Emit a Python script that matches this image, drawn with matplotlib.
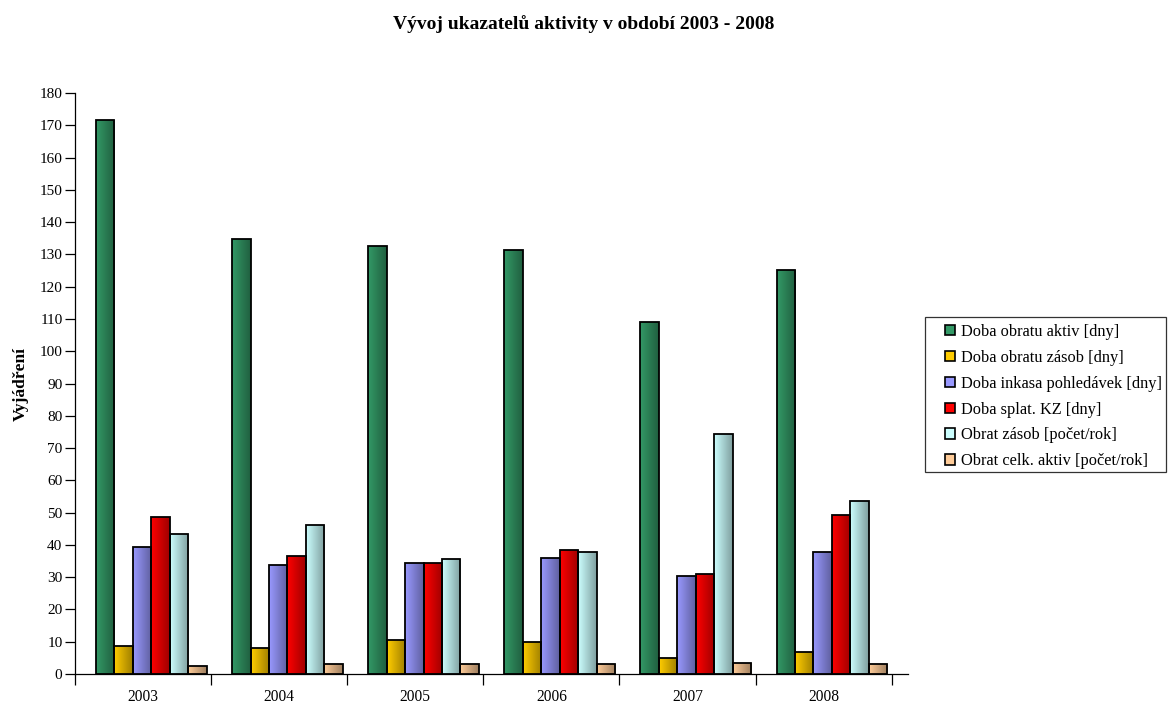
import numpy as np
import matplotlib.pyplot as plt
from matplotlib.colors import LinearSegmentedColormap, to_rgb
from matplotlib.patches import Patch, Rectangle

plt.rcParams['font.family'] = ['Liberation Serif', 'DejaVu Serif']

years = ['2003', '2004', '2005', '2006', '2007', '2008']

series_names = [
    'Doba obratu aktiv [dny]',
    'Doba obratu zásob [dny]',
    'Doba inkasa pohledávek [dny]',
    'Doba splat. KZ [dny]',
    'Obrat zásob [počet/rok]',
    'Obrat celk. aktiv [počet/rok]',
]

doba_obratu_aktiv = [171.6, 134.8, 132.6, 131.3, 109.0, 125.2]
doba_obratu_zasob = [8.6, 8.0, 10.5, 9.9, 5.1, 6.9]
doba_inkasa_pohl = [39.4, 33.8, 34.5, 36.0, 30.4, 37.8]
doba_splat_kz = [48.6, 36.6, 34.5, 38.4, 31.0, 49.4]
obrat_zasob = [43.4, 46.3, 35.7, 37.9, 74.3, 53.6]
obrat_celk_aktiv = [2.4, 3.0, 3.1, 3.1, 3.5, 3.1]

series = [doba_obratu_aktiv, doba_obratu_zasob, doba_inkasa_pohl,
          doba_splat_kz, obrat_zasob, obrat_celk_aktiv]
colors = ['#339966', '#ffcc00', '#9999ff', '#ff0000', '#ccffff', '#ffcc99']

W, H = 1168, 704
fig = plt.figure(figsize=(W / 100, H / 100), dpi=100)
ax = fig.add_axes([0.0642, 0.0426, 0.7132, 0.8253])

x = np.arange(len(years))
bar_w = 0.1355
start = -0.5 + 0.154

# horizontal shading: base colour on the left, darker on the right
grad = np.linspace(0, 1, 64).reshape(1, -1)

legend_handles = []
for i, (vals, col) in enumerate(zip(series, colors)):
    base = np.array(to_rgb(col))
    cmap = LinearSegmentedColormap.from_list('g%d' % i, [base, base * 0.62])
    lefts = x + start + i * bar_w
    bars = ax.bar(lefts, vals, width=bar_w, align='edge', color='none',
                  edgecolor='black', linewidth=1.3, zorder=3)
    for b in bars:
        bx, by = b.get_x(), b.get_y()
        im = ax.imshow(grad, cmap=cmap, aspect='auto', zorder=2,
                       extent=[bx, bx + b.get_width(), by, by + b.get_height()])
        im.set_clip_path(b)
    legend_handles.append(Patch(facecolor=col, edgecolor='black', linewidth=1.2,
                                label=series_names[i]))

ax.set_xlim(-0.5, 5.62)
ax.set_ylim(0, 180)
ax.set_yticks(np.arange(0, 181, 10))
ax.set_xticks(np.arange(-0.5, 6, 1))
ax.set_xticklabels([])
ax.set_xticks(x, minor=True)
ax.set_xticklabels(years, minor=True)
ax.tick_params(axis='x', which='major', direction='out', length=8, width=0.9)
ax.tick_params(axis='x', which='minor', length=0, pad=11, labelsize=11.2)
ax.tick_params(axis='y', direction='out', length=7, width=0.9, labelsize=11, pad=2)

for s in ['top', 'right']:
    ax.spines[s].set_visible(False)
ax.spines['left'].set_linewidth(0.9)
ax.spines['bottom'].set_linewidth(0.9)

ax.set_ylabel('Vyjádření', fontweight='bold', fontsize=12.5, labelpad=8)
fig.text(0.5, 1 - 24 / H, 'Vývoj ukazatelů aktivity v období 2003 - 2008',
         ha='center', va='center', fontweight='bold', fontsize=14)

# legend box drawn separately so the padding can differ per side
fig.patches.append(Rectangle((925 / W, 1 - 472 / H), 241 / W, 155 / H,
                             transform=fig.transFigure, facecolor='white',
                             edgecolor='#333333', linewidth=0.9))
fig.legend(handles=legend_handles, loc='upper left',
           bbox_to_anchor=(945 / W, 1 - 324 / H), fontsize=11.8,
           frameon=False, borderpad=0, borderaxespad=0,
           handlelength=0.6, handleheight=0.6, handletextpad=0.35,
           labelspacing=0.6)

fig.savefig('out.png', dpi=100)
